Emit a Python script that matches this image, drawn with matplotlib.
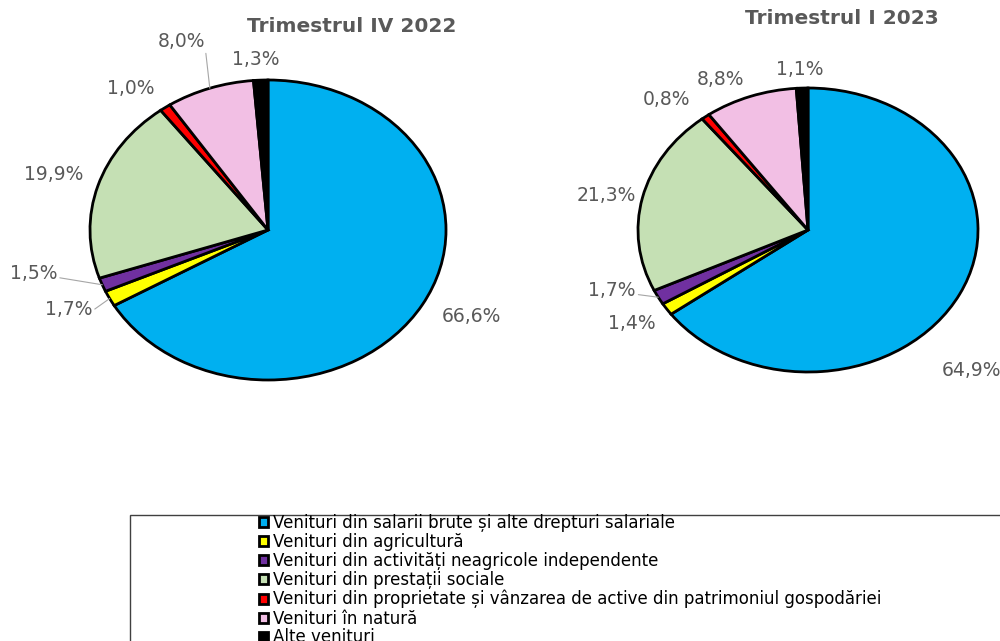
import numpy as np
import matplotlib
matplotlib.use("Agg")
import matplotlib.pyplot as plt
from matplotlib.patches import Rectangle

# data
categories = [
    "Venituri din salarii brute și alte drepturi salariale",
    "Venituri din agricultură",
    "Venituri din activități neagricole independente",
    "Venituri din prestații sociale",
    "Venituri din proprietate și vânzarea de active din patrimoniul gospodăriei",
    "Venituri în natură",
    "Alte venituri",
]
titles = ["Trimestrul IV 2022", "Trimestrul I 2023"]
q4_2022 = [66.6, 1.7, 1.5, 19.9, 1.0, 8.0, 1.3]
q1_2023 = [64.9, 1.4, 1.7, 21.3, 0.8, 8.8, 1.1]

colors = ["#00B0F0", "#FFFF00", "#7030A0", "#C5E0B4",
          "#FF0000", "#F2BFE4", "#000000"]
GRAY = "#595959"

fig = plt.figure(figsize=(10, 6.41), dpi=100)


def px_axes(cx, cy, rx, ry):
    """axes whose box is the pie ellipse, given in pixels from top-left"""
    return fig.add_axes([(cx - rx) / 1000, (641 - cy - ry) / 641,
                         2 * rx / 1000, 2 * ry / 641])


# label placement: radius factor, angle nudge (deg), leader line start on text
label_style = [
    {"r": [1.28, 1.24, 1.35, 1.26, 1.22, 1.35, 1.14],
     "dt": [3, -2, -9, 0, 4, 2, 1],
     "lead": [None, (1, 0.4), (1, 0.3), None, None, (1, 0.1), None]},
    {"r": [1.38, 1.23, 1.23, 1.21, 1.24, 1.18, 1.13],
     "dt": [-19, -1.5, -8, 1.7, 5, 6, 0.4],
     "lead": [None, None, (1, 0.3), None, None, None, None]},
]

pies = [(268, 230, 178, 150), (808, 230, 170, 142)]
title_pos = [(352, 27), (842, 19)]
series = [q4_2022, q1_2023]

wedges_all = None
for k, vals in enumerate(series):
    ax = px_axes(*pies[k])
    wedges, _ = ax.pie(vals, colors=colors, startangle=90, counterclock=False,
                       wedgeprops=dict(edgecolor="black", linewidth=2))
    ax.set_aspect("auto")
    ax.set_xlim(-1, 1)
    ax.set_ylim(-1, 1)
    for w in wedges:
        w.set_clip_on(False)
    if wedges_all is None:
        wedges_all = wedges

    st = label_style[k]
    for i, w in enumerate(wedges):
        mid = np.deg2rad((w.theta1 + w.theta2) / 2)
        ang = mid + np.deg2rad(st["dt"][i])
        r = st["r"][i]
        txt = f"{vals[i]:.1f}%".replace(".", ",")
        pos = (r * np.cos(ang), r * np.sin(ang))
        if st["lead"][i] is not None:
            ax.annotate(txt, xy=(np.cos(mid), np.sin(mid)), xytext=pos,
                        ha="center", va="center", fontsize=13.5, color=GRAY,
                        annotation_clip=False,
                        arrowprops=dict(arrowstyle="-", color="#A6A6A6",
                                        lw=0.8, shrinkA=0, shrinkB=0,
                                        relpos=st["lead"][i]))
        else:
            ax.text(*pos, txt, ha="center", va="center", fontsize=13.5,
                    color=GRAY, clip_on=False)

    tx, ty = title_pos[k]
    fig.text(tx / 1000, 1 - ty / 641, titles[k], ha="center", va="center",
             fontsize=14.5, fontweight="bold", color=GRAY)

# legend box (runs off the bottom and right edge, as in the source)
fig.patches.append(Rectangle((0.13, -0.1), 0.9, 0.1 + 126 / 641,
                             transform=fig.transFigure, facecolor="white",
                             edgecolor="#404040", linewidth=1))
fig.legend(wedges_all, categories, loc="upper left",
           bbox_to_anchor=(0.259, 1 - 514 / 641), frameon=False,
           prop={"family": "DejaVu Sans", "size": 12},
           handlelength=0.55, handleheight=0.55, handletextpad=0.3,
           labelspacing=0.06, borderpad=0, borderaxespad=0)

fig.savefig("out.png", dpi=100)
